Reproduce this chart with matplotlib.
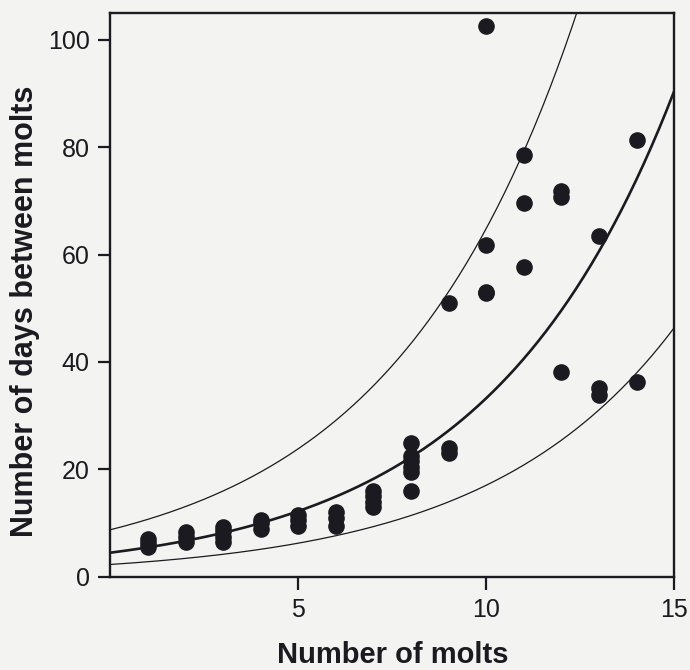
import numpy as np
import matplotlib
matplotlib.use("Agg")
import matplotlib.pyplot as plt

plt.rcParams['font.family'] = ['Liberation Sans', 'DejaVu Sans']

# observed intervals: molt number and days until the next molt
molt = [1, 1, 1,
        2, 2, 2,
        3, 3, 3, 3,
        4, 4, 4,
        5, 5, 5,
        6, 6, 6,
        7, 7, 7, 7,
        8, 8, 8, 8, 8, 8,
        9, 9, 9,
        10, 10, 10, 10,
        11, 11, 11,
        12, 12, 12,
        13, 13, 13,
        14, 14]
days = [5.5, 6.3, 7.0,
        6.5, 7.5, 8.3,
        6.5, 7.5, 8.5, 9.2,
        9.0, 10.0, 10.5,
        9.5, 10.5, 11.5,
        9.5, 11.0, 12.0,
        13.0, 14.0, 15.0, 16.0,
        16.0, 19.5, 20.5, 21.5, 22.5, 25.0,
        23.0, 24.0, 51.0,
        52.8, 61.8, 102.6, 53.0,
        57.7, 69.6, 78.5,
        38.2, 70.7, 71.8,
        33.9, 35.1, 63.4,
        36.2, 81.4]

# fitted growth curve y = a*exp(b*x) with a band of factor k above and below
fit_a, fit_b = 4.5, 0.2
band_k = 1.95

x = np.linspace(0, 15, 300)
mid = fit_a * np.exp(fit_b * x)

fig = plt.figure(figsize=(6.9, 6.7), dpi=100)
fig.patch.set_facecolor('#f3f3f1')
ax = fig.add_axes([0.16, 0.139, 0.817, 0.842])
ax.set_facecolor('#f3f3f1')

ink = '#1a1a20'
ax.plot(x, mid, color=ink, lw=1.9)
ax.plot(x, mid * band_k, color=ink, lw=0.9)
ax.plot(x, mid / band_k, color=ink, lw=0.9)
ax.scatter(molt, days, s=120, color=ink, zorder=3, clip_on=False)

ax.set_xlim(0, 15)
ax.set_ylim(0, 105)
ax.set_xticks([5, 10, 15])
ax.set_yticks([0, 20, 40, 60, 80, 100])
for s in ax.spines.values():
    s.set_linewidth(1.7)
    s.set_color(ink)
ax.tick_params(direction='out', length=9, width=1.6, colors=ink,
               labelsize=18, pad=6)
ax.set_xlabel('Number of molts', fontsize=21, fontweight='bold',
              labelpad=14, color=ink)
ax.set_ylabel('Number of days between molts', fontsize=22,
              fontweight='bold', color=ink)
ax.yaxis.set_label_coords(-0.125, 0.47)

fig.savefig('out.png', dpi=100, facecolor=fig.get_facecolor())
